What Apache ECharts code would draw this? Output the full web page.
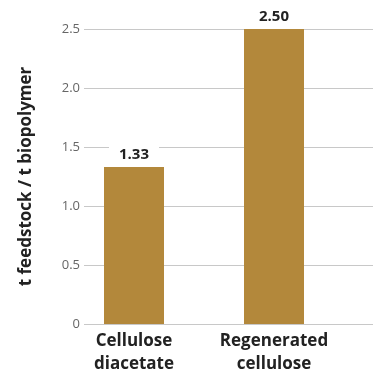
<!DOCTYPE html>
<html>
<head>
<meta charset="utf-8">
<script src="https://cdn.jsdelivr.net/npm/echarts@6/dist/echarts.min.js"></script>
<style>
html, body { margin: 0; padding: 0; background: #fff; }
#chart { width: 373px; height: 377px; }
</style>
</head>
<body>
<div id="chart"></div>
<script>
// chart data
const categories = ['Cellulose\ndiacetate', 'Regenerated\ncellulose']
const values = [1.33, 2.50]
const yTicks = [0, 0.5, 1.0, 1.5, 2.0, 2.5]
const yName = 't feedstock / t biopolymer'

const chart = echarts.init(document.getElementById('chart'))
const font = '"Open Sans", "Noto Sans", sans-serif'

chart.setOption({
  animation: false,
  grid: [
    { left: 84, right: 0, top: 29, bottom: 53 },
    { left: 64, right: 29, top: 29, bottom: 53 }
  ],
  xAxis: [
    { gridIndex: 0, type: 'value', show: false, min: 0, max: 1 },
    {
      gridIndex: 1,
      type: 'category',
      data: categories,
      axisLine: { show: false },
      axisTick: { show: false },
      axisLabel: {
        interval: 0,
        hideOverlap: false,
        margin: 6,
        fontFamily: font,
        fontSize: 17,
        fontWeight: 'bold',
        color: '#222',
        lineHeight: 23
      }
    }
  ],
  yAxis: [
    {
      gridIndex: 0,
      type: 'value',
      min: yTicks[0],
      max: yTicks[yTicks.length - 1],
      interval: 0.5,
      name: yName,
      nameLocation: 'middle',
      nameGap: 49,
      nameTextStyle: {
        fontFamily: font,
        fontSize: 17,
        fontWeight: 'bold',
        color: '#222'
      },
      axisLine: { show: false },
      axisTick: { show: false },
      axisLabel: {
        margin: 4,
        fontFamily: font,
        fontSize: 13,
        color: '#666',
        formatter: (v) => v === 0 ? '0' : v.toFixed(1)
      },
      splitLine: { lineStyle: { color: '#c8c8c8', width: 1 } }
    },
    {
      gridIndex: 1,
      type: 'value',
      min: yTicks[0],
      max: yTicks[yTicks.length - 1],
      interval: 0.5,
      show: false,
      splitLine: { show: false }
    }
  ],
  series: [
    {
      type: 'bar',
      xAxisIndex: 1,
      yAxisIndex: 1,
      data: values,
      barWidth: 60,
      itemStyle: { color: '#b3883b' },
      label: {
        show: true,
        position: 'top',
        distance: 3,
        formatter: (p) => p.value.toFixed(2),
        fontFamily: font,
        fontSize: 15,
        fontWeight: 'bold',
        color: '#222',
        backgroundColor: '#fff',
        padding: [2, 10, 2, 10]
      }
    }
  ]
})
</script>
</body>
</html>
